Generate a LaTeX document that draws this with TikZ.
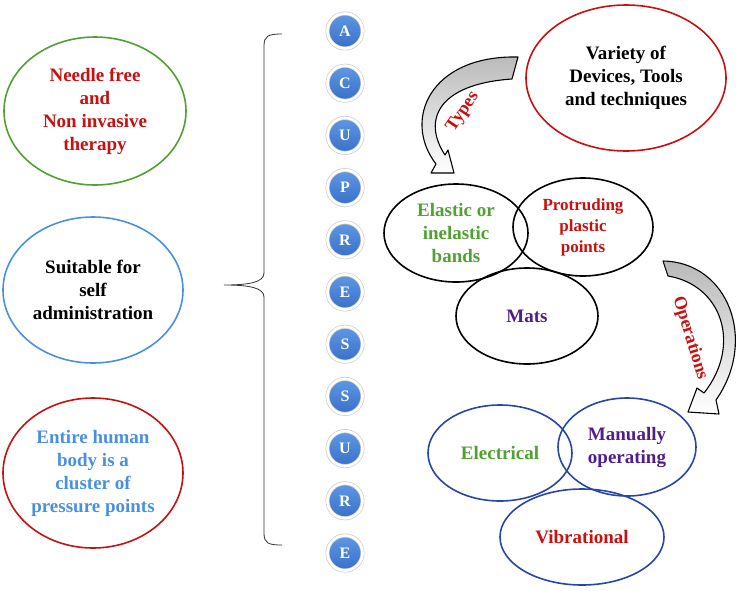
\documentclass[tikz,border=0pt]{standalone}
\usepackage{fontspec}
\setmainfont{Liberation Serif}
\usetikzlibrary{shapes.geometric}

\definecolor{deepred}{RGB}{200,16,16}
\definecolor{leafgreen}{RGB}{80,160,50}
\definecolor{skyblue}{RGB}{74,144,226}
\definecolor{royalpurple}{RGB}{80,30,140}
\definecolor{navyline}{RGB}{40,70,170}
\definecolor{buttontop}{RGB}{95,152,228}
\definecolor{buttonbot}{RGB}{55,112,200}

\tikzset{
    bubble/.style={ellipse, draw, line width=1.6pt, inner sep=0pt, align=center,
        font=\bfseries\fontsize{19}{23}\selectfont},
    letter/.style={circle, minimum size=35pt, inner sep=0pt, draw=gray!40,
        double=white, double distance=2.6pt, line width=0.7pt,
        top color=buttontop, bottom color=buttonbot, text=white,
        font=\bfseries\fontsize{16}{16}\selectfont},
    turnarrow/.style={draw, line width=1.1pt, line join=round,
        top color=gray!55, bottom color=white},
    turnlabel/.style={text=deepred, font=\bfseries\fontsize{18}{18}\selectfont}
}

\begin{document}
\begin{tikzpicture}[x=1pt, y=-1pt]
    \useasboundingbox (0,0) rectangle (745,590);

    % Left column of features
    \node[bubble, draw=leafgreen, text=deepred, minimum width=182, minimum height=148]
        (needle) at (95,111) {Needle free\\and\\Non invasive\\therapy};
    \node[bubble, draw=skyblue, text=black, minimum width=180, minimum height=146]
        (self) at (93,290) {Suitable for\\self\\administration};
    \node[bubble, draw=deepred, text=skyblue, minimum width=180, minimum height=150]
        (body) at (93,473) {Entire human\\body is a\\cluster of\\pressure points};

    % Brace joining the letters
    \coordinate (btop) at (282,34);
    \coordinate (btip) at (224,285);
    \coordinate (bbot) at (282,545);
    \draw[gray!40!black, line width=0.8pt] (btop) .. controls (268,34) and (264,36) .. (264,46)
        -- (264,273) .. controls (264,282) and (250,285) .. (btip)
        .. controls (250,285) and (264,288) .. (264,297)
        -- (264,533) .. controls (264,543) and (268,545) .. (bbot);

    % Letters of the word
    \def\ystep{52.2} % distance between letters
    \foreach \ch [count=\i] in {A,C,U,P,R,E,S,S,U,R,E} {
        \pgfmathsetmacro{\yy}{31 + \ystep * (\i - 1)}
        \node[letter] (l\i) at (345, \yy) {\ch};
    }

    % Devices group
    \node[bubble, draw=deepred, text=black, minimum width=200, minimum height=146]
        (variety) at (626,78) {Variety of\\Devices, Tools\\and techniques};
    \node[bubble, draw=black, text=leafgreen, minimum width=144, minimum height=98]
        (elastic) at (456,233) {Elastic or\\inelastic\\bands};
    \node[bubble, draw=black, text=deepred, minimum width=140, minimum height=98,
        font=\bfseries\fontsize{17}{21}\selectfont]
        (protrude) at (583,227) {Protruding\\plastic\\points};
    \node[bubble, draw=black, text=royalpurple, minimum width=142, minimum height=96]
        (mats) at (527,316) {Mats};

    % Operations group
    \node[bubble, draw=navyline, text=leafgreen, minimum width=144, minimum height=96]
        (electric) at (500,453) {Electrical};
    \node[bubble, draw=navyline, text=royalpurple, minimum width=138, minimum height=98]
        (manual) at (627,447) {Manually\\operating};
    \node[bubble, draw=navyline, text=deepred, minimum width=164, minimum height=96]
        (vibrate) at (582,537) {Vibrational};

    % Curved arrows
    \path[turnarrow] (518,57) .. controls (430,55) and (402,120) .. (436,164)
        -- (431,173) -- (454,173) -- (448,150) -- (445,155)
        .. controls (422,120) and (438,84) .. (512,79) -- cycle;
    \node[turnlabel, rotate=56] (types) at (463,112) {Types};

    \path[turnarrow] (663,261) .. controls (728,262) and (758,340) .. (716,400)
        -- (719,414) -- (688,412) -- (697,388) -- (704,393)
        .. controls (742,345) and (722,285) .. (668,276) -- cycle;
    \node[turnlabel, rotate=-73] (ops) at (690,338) {Operations};
\end{tikzpicture}
\end{document}
